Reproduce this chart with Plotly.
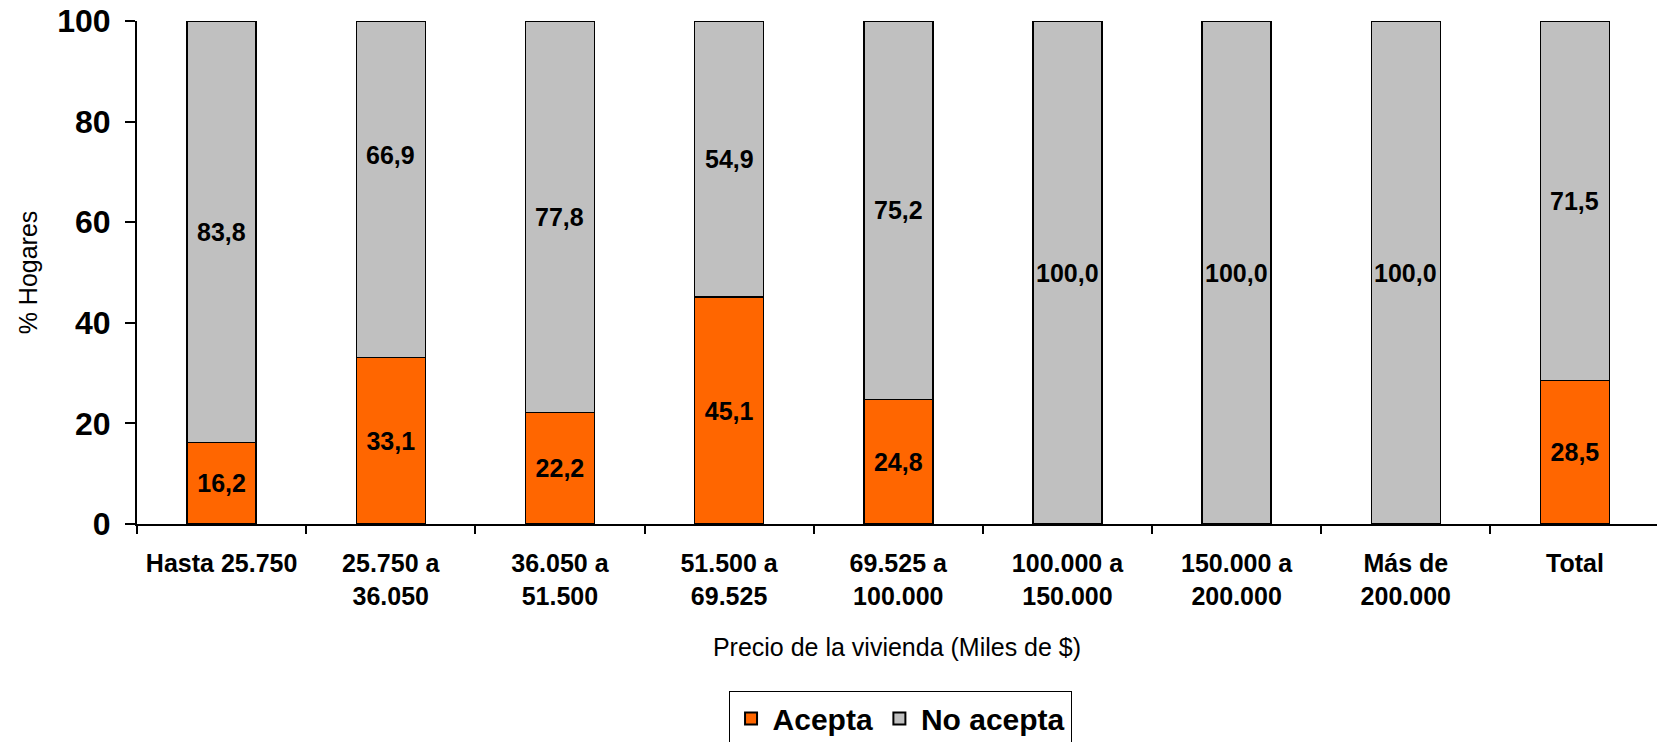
import plotly.graph_objects as go

# Price bands (thousands of $) and share of households (%)
categorias = [
    "Hasta 25.750",
    "25.750 a<br>36.050",
    "36.050 a<br>51.500",
    "51.500 a<br>69.525",
    "69.525 a<br>100.000",
    "100.000 a<br>150.000",
    "150.000 a<br>200.000",
    "Más de<br>200.000",
    "Total",
]
acepta = [16.2, 33.1, 22.2, 45.1, 24.8, 0.0, 0.0, 0.0, 28.5]
no_acepta = [83.8, 66.9, 77.8, 54.9, 75.2, 100.0, 100.0, 100.0, 71.5]

FONT = "Liberation Sans, Arial, sans-serif"
NARANJA = "#FF6600"
GRIS = "#C0C0C0"

# pixel nudges for individual "No acepta" labels
label_shift = {"25.750 a<br>36.050": 34}

fig = go.Figure()

fig.add_trace(go.Bar(
    x=categorias, y=acepta, name="<b>Acepta</b>",
    marker=dict(color=NARANJA, line=dict(color="black", width=1.5)),
    text=[f"{v:.1f}".replace(".", ",") if v > 0 else "" for v in acepta],
    textposition="inside", insidetextanchor="middle", textangle=0,
    textfont=dict(family=FONT, size=25, color="black", weight="bold"),
    hoverinfo="skip",
))
fig.add_trace(go.Bar(
    x=categorias, y=no_acepta, name="<b>No acepta</b>",
    marker=dict(color=GRIS, line=dict(color="black", width=1.5)),
    hoverinfo="skip",
))

# value labels for the upper segments, centred in each segment
for c, a, n in zip(categorias, acepta, no_acepta):
    fig.add_annotation(
        x=c, y=a + n / 2, xref="x", yref="y",
        text=f"<b>{n:.1f}</b>".replace(".", ","),
        showarrow=False, yshift=label_shift.get(c, 0),
        font=dict(family=FONT, size=25, color="black"),
    )

fig.update_layout(
    width=1657, height=742,
    barmode="stack", bargap=0.592,
    paper_bgcolor="white", plot_bgcolor="white",
    margin=dict(l=137, r=0, t=21, b=218, autoexpand=False),
    font=dict(family=FONT, color="black"),
    showlegend=True,
    legend=dict(
        orientation="h", x=0.502, xanchor="center", y=-0.333, yanchor="top",
        font=dict(family=FONT, size=30, color="black"),
        bordercolor="black", borderwidth=1, bgcolor="white",
        traceorder="normal", itemsizing="constant", itemwidth=33,
    ),
    xaxis=dict(
        type="category", range=[-0.5, 8.485], automargin=False,
        showline=True, linecolor="black", linewidth=2,
        ticks="outside", tickson="boundaries", ticklen=8, tickwidth=1.5, tickcolor="black",
        tickfont=dict(family=FONT, size=25, color="black", weight="bold"),
        ticklabelstandoff=16,
        showgrid=False,
        title=dict(text="Precio de la vivienda (Miles de $)",
                   font=dict(family=FONT, size=25, color="black"), standoff=30),
    ),
    yaxis=dict(
        range=[0, 100], tickvals=[0, 20, 40, 60, 80, 100], automargin=False,
        showline=True, linecolor="black", linewidth=2,
        ticks="outside", ticklen=10, tickwidth=1.5, tickcolor="black",
        tickfont=dict(family=FONT, size=32, color="black", weight="bold"),
        ticklabelstandoff=8,
        showgrid=False, zeroline=False,
        title=dict(text="% Hogares", font=dict(family=FONT, size=25, color="black"), standoff=12),
    ),
)

fig.write_html("out.html")
